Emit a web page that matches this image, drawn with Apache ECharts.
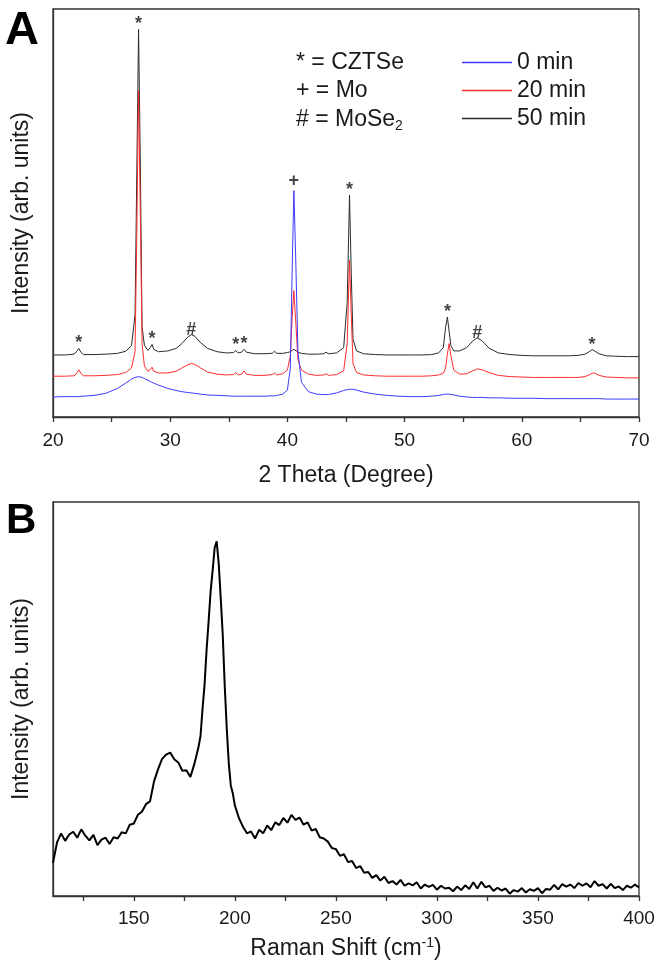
<!DOCTYPE html>
<html>
<head>
<meta charset="utf-8">
<script src="https://cdn.jsdelivr.net/npm/echarts@6/dist/echarts.min.js"></script>
<style>
html, body { margin: 0; padding: 0; background: #fff; }
#main { width: 658px; height: 966px; }
</style>
</head>
<body>
<div id="main"></div>
<script>
// panel A: XRD, 2 theta (degree)
var twoTheta = [20, 21, 21.8, 22.0, 22.2, 22.4, 22.6, 23.5, 24.5, 25.5, 26.2, 26.7, 27.0, 27.15, 27.3, 27.45, 27.6, 27.8,
  28.1, 28.3, 28.45, 28.6, 29.0, 29.8, 30.5, 31.0, 31.5, 31.8, 32.1, 32.6, 33.2, 34.0, 34.8, 35.4, 35.6, 35.8,
  36.1, 36.3, 36.5, 37.2, 38.0, 38.7, 38.9, 39.1, 39.6, 40.0, 40.25, 40.4, 40.55, 40.7, 40.9, 41.2, 41.8, 42.5,
  43.1, 43.3, 43.5, 44.2, 44.8, 45.1, 45.3, 45.45, 45.6, 45.9, 46.5, 47.5, 48.5, 49.5, 50.5, 51.5, 52.3, 52.9,
  53.3, 53.5, 53.65, 53.8, 53.95, 54.2, 54.7, 55.3, 55.8, 56.2, 56.6, 57.2, 58.0, 59.0, 60.0, 61.0, 62.0, 63.0,
  64.0, 64.8, 65.4, 65.8, 66.0, 66.2, 66.6, 67.2, 68.0, 69.0, 70.0];

var xrd0min = [4.9, 5.0, 5.0, 5.0, 5.0, 5.1, 5.1, 5.3, 5.8, 7.0, 8.3, 9.3, 9.7, 9.8, 9.9, 9.8, 9.7, 9.4,
  9.0, 8.7, 8.5, 8.3, 7.8, 7.0, 6.5, 6.2, 6.0, 5.9, 5.8, 5.6, 5.4, 5.3, 5.2, 5.1, 5.1, 5.1,
  5.1, 5.1, 5.1, 5.1, 5.1, 5.2, 5.2, 5.3, 5.6, 6.6, 12, 35, 55.5, 40, 16, 8.5, 6.2, 5.6,
  5.5, 5.5, 5.5, 5.9, 6.5, 6.7, 6.8, 6.8, 6.8, 6.6, 6.1, 5.6, 5.3, 5.1, 5.0, 5.0, 5.1, 5.3,
  5.5, 5.6, 5.6, 5.6, 5.5, 5.4, 5.1, 4.9, 4.8, 4.8, 4.8, 4.7, 4.7, 4.6, 4.6, 4.6, 4.5, 4.5,
  4.5, 4.5, 4.5, 4.5, 4.5, 4.5, 4.5, 4.4, 4.4, 4.4, 4.4];

var xrd20min = [10.0, 10.0, 10.1, 10.6, 11.6, 10.6, 10.1, 10.1, 10.2, 10.4, 10.9, 12, 16, 45, 80, 50, 18, 12.5,
  11.2, 11.6, 12.2, 11.2, 10.8, 10.8, 11.2, 12.0, 12.8, 13.1, 12.9, 12.0, 11.0, 10.5, 10.3, 10.4, 10.9, 10.3,
  10.5, 11.3, 10.5, 10.2, 10.2, 10.4, 10.8, 10.3, 10.6, 11.5, 15, 24, 31, 24, 14, 11.5, 10.5, 10.2,
  10.3, 10.6, 10.2, 10.4, 11.3, 18, 38.5, 25, 13, 10.9, 10.3, 10.1, 10.0, 10.0, 10.0, 10.0, 10.1, 10.3,
  10.7, 12, 15.5, 18, 15, 11.5, 10.5, 10.6, 11.3, 11.8, 11.6, 10.9, 10.2, 9.9, 9.8, 9.7, 9.7, 9.7,
  9.7, 9.7, 9.9, 10.4, 10.7, 10.8, 10.2, 9.8, 9.7, 9.6, 9.6];

var xrd50min = [15.2, 15.2, 15.4, 16.0, 16.8, 15.8, 15.3, 15.3, 15.4, 15.6, 16.1, 17.5, 25, 60, 95, 62, 22, 17.6,
  16.3, 17.0, 17.8, 16.6, 16.0, 16.2, 16.8, 18.0, 19.6, 20.2, 19.8, 18.2, 16.8, 16.0, 15.7, 15.8, 16.3, 15.7,
  15.9, 16.6, 15.9, 15.5, 15.5, 15.6, 16.1, 15.6, 15.6, 15.8, 16.0, 16.4, 16.6, 16.3, 15.9, 15.6, 15.4, 15.4,
  15.5, 15.9, 15.5, 15.7, 17, 28, 54.4, 35, 19, 16.2, 15.5, 15.3, 15.2, 15.2, 15.2, 15.2, 15.3, 15.7,
  17, 22, 24.5, 21, 17.5, 16.2, 16.2, 17.0, 18.6, 19.4, 18.7, 16.9, 15.7, 15.3, 15.1, 15.0, 15.0, 15.0,
  15.0, 15.1, 15.4, 16.1, 16.5, 16.2, 15.5, 15.0, 14.9, 14.8, 14.8];

// phase marks above the peaks
var peakX = [22.2, 27.3, 28.45, 31.8, 35.6, 36.3, 40.55, 45.3, 53.65, 56.2, 66.0];
var peakY = [16.8, 95, 17.8, 20.2, 16.3, 16.6, 56.5, 54.4, 24.5, 19.4, 16.5];
var peakMark = ['*', '*', '*', '#', '*', '*', '+', '*', '*', '#', '*'];

var timeNames = ['0 min', '20 min', '50 min'];

// panel B: Raman
var ramanShift = [110, 112, 114, 116, 118, 120, 122, 124, 126, 128, 130, 132, 134, 136, 138, 140, 142, 144, 146, 148,
  150, 152, 154, 156, 158, 160, 162, 164, 166, 168, 170, 172, 174, 176, 178, 180, 182,
  183, 184, 185, 186, 187, 188, 189, 190, 191, 192, 193, 194, 195, 196, 197, 198, 199, 200,
  202, 204, 206, 208, 210, 212, 214, 216, 218, 220, 222, 224, 226, 228, 230, 232, 234, 236, 238, 240,
  242, 244, 246, 248, 250, 252, 254, 256, 258, 260, 262, 264, 266, 268, 270, 272, 274, 276, 278, 280,
  282, 284, 286, 288, 290, 292, 294, 296, 298, 300, 302, 304, 306, 308, 310, 312, 314, 316, 318, 320,
  322, 324, 326, 328, 330, 332, 334, 336, 338, 340, 342, 344, 346, 348, 350, 352, 354, 356, 358, 360,
  362, 364, 366, 368, 370, 372, 374, 376, 378, 380, 382, 384, 386, 388, 390, 392, 394, 396, 398, 400];

var ramanIntensity = [8.4, 13.6, 15.9, 14.0, 15.6, 16.3, 14.8, 16.9, 15.3, 14.1, 15.5, 12.9, 14.3, 14.8, 13.2, 14.9, 14.6, 16.2, 15.9, 18.1,
  18.4, 20.6, 21.4, 23.3, 24.0, 29.1, 32.2, 34.8, 35.9, 36.4, 34.7, 33.9, 31.8, 31.9, 30.2, 33.6, 37.8,
  40.6, 47.5, 53.6, 62.4, 69.6, 77.3, 82.6, 88.4, 90.0, 84.5, 75.6, 66.3, 53.2, 42.4, 33.6, 28.0, 26.0, 23.0,
  19.8, 17.6, 15.9, 16.4, 14.6, 16.8, 15.9, 17.9, 16.7, 18.7, 18.0, 19.8, 18.6, 20.6, 19.3, 19.9, 18.1, 18.7, 16.6, 17.0,
  14.9, 14.6, 13.8, 12.2, 11.9, 10.2, 10.6, 8.6, 8.9, 7.1, 7.6, 5.9, 6.1, 4.6, 5.3, 3.9, 4.9, 3.3, 3.8, 2.9,
  4.1, 2.6, 3.2, 2.7, 3.5, 1.9, 2.9, 2.3, 2.8, 1.6, 2.6, 1.9, 2.1, 1.2, 2.4, 1.5, 2.7, 1.8, 3.5, 1.9,
  3.6, 2.2, 2.6, 1.3, 2.1, 1.4, 1.9, 0.6, 1.5, 1.1, 2.0, 0.9, 1.7, 1.3, 2.0, 0.7, 1.8, 1.6, 2.8, 1.7,
  3.0, 2.4, 2.9, 2.0, 3.3, 2.6, 3.2, 2.2, 3.8, 2.6, 3.0, 1.9, 3.1, 2.0, 2.4, 1.5, 2.6, 2.1, 2.9, 2.2];

var ramanLabels = [150, 200, 250, 300, 350, 400];
var ramanTicks = [125, 150, 175, 200, 225, 250, 275, 300, 325, 350, 375, 400];

var FONT = '"Liberation Sans", Arial, sans-serif';
var INK = '#1a1a1a';
var LEGEND_LINE = 'path://M0,0 L50,0 L50,1.5 L0,1.5 Z';

function pairs(xs, ys) {
  return xs.map(function (x, i) { return [x, ys[i]]; });
}

var myChart = echarts.init(document.getElementById('main'));

var axisLine = { show: true, lineStyle: { color: '#333', width: 1.3 } };
var yName = { fontSize: 23, color: INK, fontFamily: FONT };

var option = {
  backgroundColor: '#fff',
  animation: false,
  textStyle: { fontFamily: FONT, color: INK },
  grid: [
    { left: 53, top: 9, width: 586, height: 408, show: true, borderColor: '#333', borderWidth: 1.3 },
    { left: 53, top: 502, width: 586, height: 394, show: true, borderColor: '#333', borderWidth: 1.3 }
  ],
  legend: {
    data: timeNames.map(function (n) { return { name: n, icon: LEGEND_LINE }; }),
    orient: 'vertical',
    left: 462,
    top: 51,
    padding: 0,
    itemWidth: 50,
    itemHeight: 14,
    itemGap: 5,
    textStyle: { fontSize: 23, color: INK, fontFamily: FONT }
  },
  xAxis: [
    {
      type: 'value', gridIndex: 0, min: 20, max: 70, interval: 5,
      name: '2 Theta (Degree)', nameLocation: 'middle', nameGap: 47,
      nameTextStyle: { fontSize: 23, color: INK, fontFamily: FONT },
      axisLine: axisLine,
      axisTick: { show: true, length: 5, lineStyle: { color: '#333', width: 1.3 } },
      axisLabel: {
        fontSize: 19, color: INK, margin: 14,
        formatter: function (v) { return v % 10 === 0 ? String(v) : ''; }
      },
      splitLine: { show: false }
    },
    {
      type: 'value', gridIndex: 1, min: 110, max: 400,
      name: 'Raman Shift (cm{sup|-1})', nameLocation: 'middle', nameGap: 40,
      nameTextStyle: {
        fontSize: 23, color: INK, fontFamily: FONT,
        rich: { sup: { fontSize: 14, color: INK, fontFamily: FONT, padding: [0, 0, 12, 0] } }
      },
      axisLine: axisLine,
      axisTick: { show: true, length: 5, customValues: ramanTicks, lineStyle: { color: '#333', width: 1.3 } },
      axisLabel: { fontSize: 19, color: INK, margin: 13, customValues: ramanLabels },
      splitLine: { show: false }
    }
  ],
  yAxis: [
    {
      type: 'value', gridIndex: 0, min: 0, max: 100,
      name: 'Intensity (arb. units)', nameLocation: 'middle', nameGap: 20, nameTextStyle: yName,
      axisLine: axisLine, axisTick: { show: false }, axisLabel: { show: false }, splitLine: { show: false }
    },
    {
      type: 'value', gridIndex: 1, min: 0, max: 100,
      name: 'Intensity (arb. units)', nameLocation: 'middle', nameGap: 20, nameTextStyle: yName,
      axisLine: axisLine, axisTick: { show: false }, axisLabel: { show: false }, splitLine: { show: false }
    }
  ],
  graphic: [
    { type: 'text', left: 5, top: 8, style: { text: 'A', font: 'bold 47px ' + FONT, fill: '#000' } },
    { type: 'text', left: 6, top: 500, style: { text: 'B', font: 'bold 42px ' + FONT, fill: '#000' } },
    {
      type: 'group', left: 296, top: 51,
      children: [
        { type: 'text', x: 0, y: 0, style: { text: '* = CZTSe', font: '23px ' + FONT, fill: INK } },
        { type: 'text', x: 0, y: 28, style: { text: '+ = Mo', font: '23px ' + FONT, fill: INK } },
        {
          type: 'text', x: 0, y: 56,
          style: {
            text: '# = MoSe{sub|2}', font: '23px ' + FONT, fill: INK,
            rich: { sub: { fontSize: 14, fontFamily: FONT, fill: INK, padding: [12, 0, 0, 0] } }
          }
        }
      ]
    }
  ],
  series: [
    {
      name: '50 min', type: 'line', xAxisIndex: 0, yAxisIndex: 0, symbol: 'none',
      lineStyle: { color: '#2b2b2b', width: 1 }, itemStyle: { color: '#2b2b2b' },
      data: pairs(twoTheta, xrd50min), z: 2
    },
    {
      name: '20 min', type: 'line', xAxisIndex: 0, yAxisIndex: 0, symbol: 'none',
      lineStyle: { color: '#ff2d2d', width: 1 }, itemStyle: { color: '#ff2d2d' },
      data: pairs(twoTheta, xrd20min), z: 3
    },
    {
      name: '0 min', type: 'line', xAxisIndex: 0, yAxisIndex: 0, symbol: 'none',
      lineStyle: { color: '#3b3bff', width: 1 }, itemStyle: { color: '#3b3bff' },
      data: pairs(twoTheta, xrd0min), z: 4
    },
    {
      name: 'marks', type: 'scatter', xAxisIndex: 0, yAxisIndex: 0, symbolSize: 0,
      data: peakX.map(function (x, i) { return { value: [x, peakY[i]], mark: peakMark[i] }; }),
      label: {
        show: true, position: 'top', distance: 1, offset: [0, 5],
        fontSize: 18, fontWeight: 'bold', color: '#111', fontFamily: FONT,
        formatter: function (p) { return p.data.mark; }
      },
      z: 5
    },
    {
      name: 'Raman', type: 'line', xAxisIndex: 1, yAxisIndex: 1, symbol: 'none',
      lineStyle: { color: '#000', width: 2 },
      data: pairs(ramanShift, ramanIntensity)
    }
  ]
};

myChart.setOption(option);
</script>
</body>
</html>
